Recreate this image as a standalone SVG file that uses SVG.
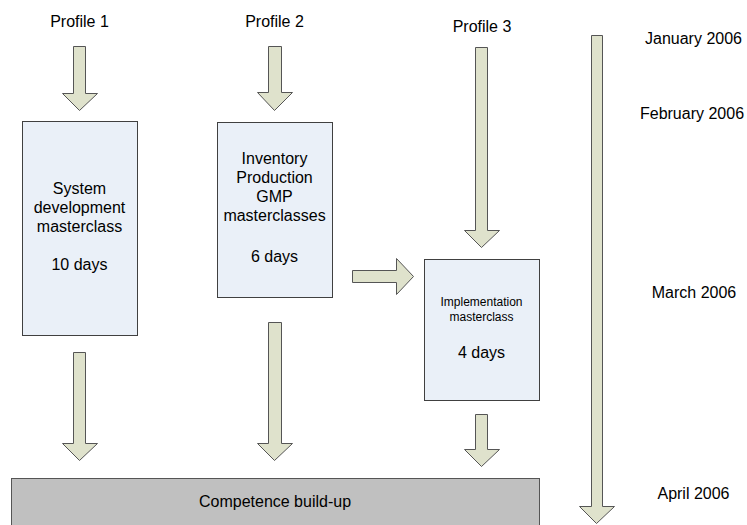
<svg xmlns="http://www.w3.org/2000/svg" width="747" height="525" viewBox="0 0 747 525">
<style>
.arrow{fill:#DFE2CC;stroke:#555555;stroke-width:1}
.box{fill:#EAF0F8;stroke:#404040;stroke-width:1}
.base{fill:#C0C0C0;stroke:#555555;stroke-width:1}
text{font-family:"Liberation Sans",Arial,sans-serif;fill:#000000;text-anchor:middle}
.t16{font-size:16px}
.t12{font-size:12px}
</style>
<rect width="747" height="525" fill="#FFFFFF"/>
<g id="labels">
<text class="t16" x="79.5" y="27">Profile 1</text>
<text class="t16" x="274.5" y="27">Profile 2</text>
<text class="t16" x="482" y="32">Profile 3</text>
<text class="t16" x="693.5" y="44">January 2006</text>
<text class="t16" x="692" y="119">February 2006</text>
<text class="t16" x="694" y="298">March 2006</text>
<text class="t16" x="693.5" y="499">April 2006</text>
</g>
<g id="connectors">
<polygon class="arrow" points="73.5,46.5 85.5,46.5 85.5,93.5 97.5,93.5 79.5,110.5 62.5,93.5 73.5,93.5"/>
<polygon class="arrow" points="268.5,46.5 281.5,46.5 281.5,92.5 292.5,92.5 274.5,110.5 257.5,92.5 268.5,92.5"/>
<polygon class="arrow" points="475.5,47.5 487.5,47.5 487.5,230.5 499.5,230.5 481.5,247.5 464.5,230.5 475.5,230.5"/>
<polygon class="arrow" points="352.5,270.5 396.5,270.5 396.5,258.5 413.5,276.5 396.5,294.5 396.5,282.5 352.5,282.5"/>
<polygon class="arrow" points="73.5,352.5 85.5,352.5 85.5,443.5 97.5,443.5 79.5,460.5 62.5,443.5 73.5,443.5"/>
<polygon class="arrow" points="268.5,322.5 281.5,322.5 281.5,443.5 292.5,443.5 274.5,460.5 257.5,443.5 268.5,443.5"/>
<polygon class="arrow" points="475.5,414.5 487.5,414.5 487.5,449.5 499.5,449.5 481.5,466.5 464.5,449.5 475.5,449.5"/>
<polygon class="arrow" points="591.5,35.5 602.5,35.5 602.5,506.5 614.5,506.5 596.5,523.5 579.5,506.5 591.5,506.5"/>
</g>
<g id="node-system">
<rect class="box" x="22.5" y="121.5" width="115" height="214"/>
<text class="t16" x="79.5" y="194">System</text>
<text class="t16" x="79.5" y="213">development</text>
<text class="t16" x="79.5" y="232">masterclass</text>
<text class="t16" x="79.5" y="270">10 days</text>
</g>
<g id="node-inventory">
<rect class="box" x="217.5" y="122.5" width="115" height="175"/>
<text class="t16" x="274.5" y="164">Inventory</text>
<text class="t16" x="274.5" y="183">Production</text>
<text class="t16" x="274.5" y="202">GMP</text>
<text class="t16" x="274.5" y="221">masterclasses</text>
<text class="t16" x="274.5" y="262">6 days</text>
</g>
<g id="node-implementation">
<rect class="box" x="424.5" y="259.5" width="115" height="141"/>
<text class="t12" x="481.5" y="306">Implementation</text>
<text class="t12" x="481.5" y="321">masterclass</text>
<text class="t16" x="481.5" y="358">4 days</text>
</g>
<g id="node-competence">
<rect class="base" x="11.5" y="478.5" width="528" height="60"/>
<text class="t16" x="275" y="507">Competence build-up</text>
</g>
</svg>
